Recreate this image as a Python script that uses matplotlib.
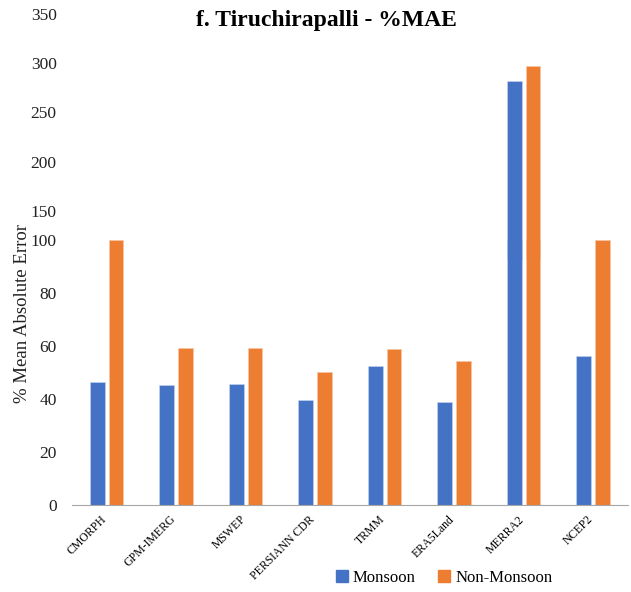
import matplotlib.pyplot as plt
import matplotlib.transforms as mtransforms
import numpy as np
from matplotlib.patches import Patch

plt.rcParams['font.family'] = ['Liberation Serif', 'DejaVu Serif']

# %MAE per product, monsoon vs non-monsoon
products = ['CMORPH', 'GPM-IMERG', 'MSWEP', 'PERSIANN CDR', 'TRMM', 'ERA5Land', 'MERRA2', 'NCEP2']
monsoon = [46.5, 45.3, 45.8, 39.5, 52.3, 38.7, 282, 56.3]
non_monsoon = [100, 59.1, 59.0, 50.0, 58.7, 54.3, 297, 100]

blue = '#4472C4'
orange = '#ED7D31'

fig = plt.figure(figsize=(6.31, 5.92), dpi=100)

# lower panel 0-100, upper panel 100-350 (broken axis)
ax_lo = fig.add_axes([0.114, 0.147, 0.881, 0.448])
ax_hi = fig.add_axes([0.114, 0.561, 0.881, 0.415])
ax_hi.patch.set_alpha(0)

x = np.arange(len(products))
w = 0.21
gap = 0.06
for ax in (ax_lo, ax_hi):
    ax.bar(x - w / 2 - gap / 2, monsoon, w, color=blue, edgecolor='#c9d6ee', linewidth=0.4)
    ax.bar(x + w / 2 + gap / 2, non_monsoon, w, color=orange, edgecolor='#f7c7a6', linewidth=0.4)
    ax.set_xlim(-0.5, len(products) - 0.5)
    for s in ['top', 'right', 'left', 'bottom']:
        ax.spines[s].set_visible(False)
    ax.tick_params(axis='y', length=0, pad=11, labelsize=12.5, colors='#222222')

ax_lo.set_ylim(0, 100)
ax_lo.set_yticks(np.arange(0, 101, 20))
ax_lo.spines['bottom'].set_visible(True)
ax_lo.spines['bottom'].set_color('#a6a6a6')
ax_lo.set_xticks(x)
ax_lo.set_xticklabels(products, rotation=45, ha='right', rotation_mode='anchor', fontsize=8.5)
ax_lo.tick_params(axis='x', length=0, pad=6)
shift = mtransforms.ScaledTranslation(-6 / 100, 0, fig.dpi_scale_trans)
for lbl in ax_lo.get_xticklabels():
    lbl.set_transform(lbl.get_transform() + shift)

ax_hi.set_ylim(100, 350)
ax_hi.set_yticks(np.arange(150, 351, 50))
ax_hi.set_xticks([])

fig.text(0.035, 0.47, '% Mean Absolute Error', rotation=90, ha='center', va='center',
         fontsize=13.5, color='#222222')
fig.text(0.518, 0.965, 'f. Tiruchirapalli - %MAE', ha='center', va='center',
         fontsize=17, fontweight='bold')

handles = [Patch(color=blue, label='Monsoon'), Patch(color=orange, label='Non-Monsoon')]
fig.legend(handles=handles, loc='center', bbox_to_anchor=(0.704, 0.024), ncol=2, frameon=False,
           fontsize=12, handlelength=0.7, handleheight=0.7, handletextpad=0.3, columnspacing=1.35)

fig.savefig('out.png', dpi=100)
